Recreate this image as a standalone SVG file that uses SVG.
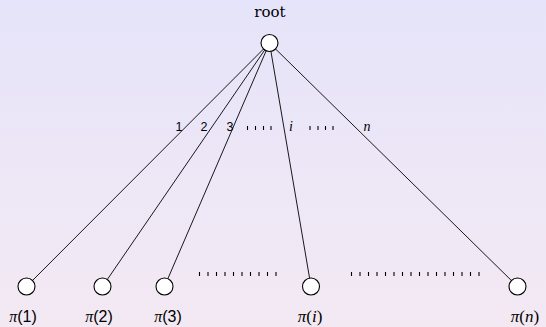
<svg xmlns="http://www.w3.org/2000/svg" width="546" height="327" viewBox="0 0 546 327">
<defs>
<linearGradient id="bg" x1="0" y1="0" x2="0" y2="1">
<stop offset="0" stop-color="#e6e4fa"/>
<stop offset="1" stop-color="#f3e9f3"/>
</linearGradient>
</defs>
<style>
.node{fill:#ffffff;stroke:#000;stroke-width:1.1}
.edge{stroke:#000;stroke-width:0.9;fill:none}
.rm{font-family:"DejaVu Serif",serif;font-size:15px;fill:#000}
.sf{font-family:"Liberation Sans",sans-serif;font-size:12.5px;fill:#000}
.lab{font-family:"Liberation Sans",sans-serif;font-size:16px;fill:#000}
.labs{font-family:"Liberation Serif",serif;font-size:17px;fill:#000}
.it{font-family:"Liberation Serif",serif;font-style:italic}
.ei{font-family:"Liberation Serif",serif;font-style:italic;font-size:14px;fill:#000}
</style>
<rect x="0" y="0" width="546" height="327" fill="url(#bg)"/>
<g id="connectors">
<line class="edge" x1="269.5" y1="43" x2="26.5" y2="286.5"/>
<line class="edge" x1="269.5" y1="43" x2="102.5" y2="286.5"/>
<line class="edge" x1="269.5" y1="43" x2="164.5" y2="286.5"/>
<line class="edge" x1="269.5" y1="43" x2="311" y2="286.5"/>
<line class="edge" x1="269.5" y1="43" x2="517.5" y2="286.5"/>
</g>
<g id="edge-labels">
<text class="sf" x="179" y="131" text-anchor="middle">1</text>
<text class="sf" x="204" y="131" text-anchor="middle">2</text>
<text class="sf" x="230" y="131" text-anchor="middle">3</text>
<text class="ei" x="291" y="131" text-anchor="middle">i</text>
<text class="ei" x="367" y="131" text-anchor="middle">n</text>
</g>
<g id="dots" stroke="#000" stroke-width="1.1">
<line x1="247.5" y1="126" x2="247.5" y2="130"/>
<line x1="255.5" y1="126" x2="255.5" y2="130"/>
<line x1="263.5" y1="126" x2="263.5" y2="130"/>
<line x1="271" y1="126" x2="271" y2="130"/>
<line x1="310" y1="126" x2="310" y2="130"/>
<line x1="318" y1="126" x2="318" y2="130"/>
<line x1="325.5" y1="126" x2="325.5" y2="130"/>
<line x1="333" y1="126" x2="333" y2="130"/>
</g>
<g id="root">
<circle class="node" cx="269.5" cy="43" r="8.5"/>
<text class="rm" x="270" y="17" text-anchor="middle">root</text>
</g>
<g id="leaf1">
<circle class="node" cx="26.5" cy="286.5" r="8.5"/>
<text class="lab" x="23" y="322" text-anchor="middle"><tspan class="it">π</tspan>(1)</text>
</g>
<g id="leaf2">
<circle class="node" cx="102.5" cy="286.5" r="8.5"/>
<text class="lab" x="99" y="322" text-anchor="middle"><tspan class="it">π</tspan>(2)</text>
</g>
<g id="leaf3">
<circle class="node" cx="164.5" cy="286.5" r="8.5"/>
<text class="lab" x="168" y="322" text-anchor="middle"><tspan class="it">π</tspan>(3)</text>
</g>
<g id="leafi">
<circle class="node" cx="311" cy="286.5" r="8.5"/>
<text class="labs" x="310" y="322" text-anchor="middle"><tspan class="it">π</tspan>(<tspan class="it">i</tspan>)</text>
</g>
<g id="leafn">
<circle class="node" cx="517.5" cy="286.5" r="8.5"/>
<text class="labs" x="525" y="322" text-anchor="middle"><tspan class="it">π</tspan>(<tspan class="it">n</tspan>)</text>
</g>
<g id="bottom-dots" stroke="#000" stroke-width="1.1">
<line x1="199.5" y1="272" x2="199.5" y2="276"/>
<line x1="208" y1="272" x2="208" y2="276"/>
<line x1="216.5" y1="272" x2="216.5" y2="276"/>
<line x1="225" y1="272" x2="225" y2="276"/>
<line x1="233.5" y1="272" x2="233.5" y2="276"/>
<line x1="242" y1="272" x2="242" y2="276"/>
<line x1="250.5" y1="272" x2="250.5" y2="276"/>
<line x1="259" y1="272" x2="259" y2="276"/>
<line x1="267.5" y1="272" x2="267.5" y2="276"/>
<line x1="276" y1="272" x2="276" y2="276"/>
<line x1="351.5" y1="272" x2="351.5" y2="276"/>
<line x1="360" y1="272" x2="360" y2="276"/>
<line x1="368.5" y1="272" x2="368.5" y2="276"/>
<line x1="377" y1="272" x2="377" y2="276"/>
<line x1="385.5" y1="272" x2="385.5" y2="276"/>
<line x1="394" y1="272" x2="394" y2="276"/>
<line x1="402.5" y1="272" x2="402.5" y2="276"/>
<line x1="411" y1="272" x2="411" y2="276"/>
<line x1="419.5" y1="272" x2="419.5" y2="276"/>
<line x1="428" y1="272" x2="428" y2="276"/>
<line x1="436.5" y1="272" x2="436.5" y2="276"/>
<line x1="445" y1="272" x2="445" y2="276"/>
<line x1="453.5" y1="272" x2="453.5" y2="276"/>
<line x1="462" y1="272" x2="462" y2="276"/>
<line x1="470.5" y1="272" x2="470.5" y2="276"/>
<line x1="479" y1="272" x2="479" y2="276"/>
</g>
</svg>
